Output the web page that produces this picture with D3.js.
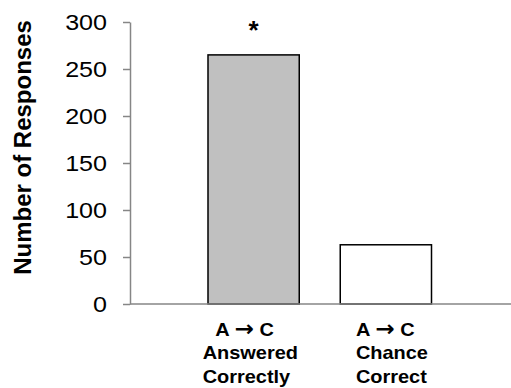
<!DOCTYPE html>
<html>
<head>
<meta charset="utf-8">
<script src="https://cdn.jsdelivr.net/npm/d3@7"></script>
<style>
  html, body { margin: 0; padding: 0; background: #fff; }
  svg { display: block; }
  text { font-family: "Liberation Sans", Arial, sans-serif; fill: #000; }
</style>
</head>
<body>
<svg id="chart" width="511" height="388"></svg>
<script>
// ---- data ----
const categories = ["Answered Correctly", "Chance Correct"];
const labelLines = [["A", "C", "Answered", "Correctly"], ["A", "C", "Chance", "Correct"]];
const values = [265, 63];
const significance = ["*", ""];
const yTicks = [0, 50, 100, 150, 200, 250, 300];
const yTitle = "Number of Responses";

// ---- layout ----
const svg = d3.select("#chart");
const axisX = 130, y0 = 304, yTop = 22;
const labelOffsets = [-51, -30];
const firstLineIndent = [12, 0];
const fills = ["#c0c0c0", "#ffffff"];

const x = d3.scaleBand().domain(categories).range([187.5, 452]).paddingInner(0.31).paddingOuter(0.155);
const y = d3.scaleLinear().domain([0, 300]).range([y0, yTop]);

// y axis
const yAxis = d3.axisLeft(y).tickValues(yTicks).tickSize(7).tickPadding(16).tickSizeOuter(0);
const gy = svg.append("g").attr("transform", `translate(${axisX},0)`).call(yAxis);
gy.select(".domain").attr("stroke", "#868686").attr("stroke-width", 1.5);
gy.selectAll(".tick line").attr("stroke", "#868686").attr("stroke-width", 1.5);
gy.selectAll(".tick text").style("font-size", "22px").attr("fill", "#000")
  .attr("font-family", "Liberation Sans, Arial, sans-serif").attr("dy", "0.36em")
  .attr("x", 0).attr("transform", "translate(-23,0) scale(1.14,1)");

// bars
svg.selectAll("rect.bar").data(categories).enter().append("rect")
  .attr("class", "bar")
  .attr("x", d => x(d))
  .attr("width", x.bandwidth())
  .attr("y", (d, i) => y(values[i]))
  .attr("height", (d, i) => y(0) - y(values[i]))
  .attr("fill", (d, i) => fills[i])
  .attr("stroke", "#000")
  .attr("stroke-width", 1.5);

// baseline
svg.append("line").attr("x1", axisX).attr("x2", 511).attr("y1", y(0)).attr("y2", y(0))
  .attr("stroke", "#868686").attr("stroke-width", 1.5);

// significance markers
svg.selectAll("text.sig").data(categories).enter().append("text")
  .attr("class", "sig")
  .attr("x", d => x(d) + x.bandwidth() / 2)
  .attr("y", (d, i) => y(values[i]) - 16)
  .attr("text-anchor", "middle")
  .style("font-size", "26px").style("font-weight", "bold")
  .text((d, i) => significance[i]);

// category labels
categories.forEach((c, i) => {
  const lx = x(c) + x.bandwidth() / 2 + labelOffsets[i];
  const g = svg.append("g").attr("transform", `translate(${lx},336) scale(1.05,1)`);
  const [a, b, l2, l3] = labelLines[i];
  const t1 = g.append("text").attr("x", firstLineIndent[i]).attr("y", 0)
    .style("font-size", "19px").style("font-weight", "bold");
  t1.append("tspan").text(a);
  t1.append("tspan").attr("dx", 5).style("font-family", "DejaVu Sans").style("font-size", "22px").text("\u2192");
  t1.append("tspan").attr("dx", 5).text(b);
  g.append("text").attr("x", 0).attr("y", 23.5)
    .style("font-size", "19px").style("font-weight", "bold").text(l2);
  g.append("text").attr("x", 0).attr("y", 47)
    .style("font-size", "19px").style("font-weight", "bold").text(l3);
});

// y title
svg.append("text")
  .attr("transform", `translate(31,147.5) rotate(-90)`)
  .attr("text-anchor", "middle")
  .style("font-size", "24px").style("font-weight", "bold")
  .text(yTitle);
</script>
</body>
</html>
